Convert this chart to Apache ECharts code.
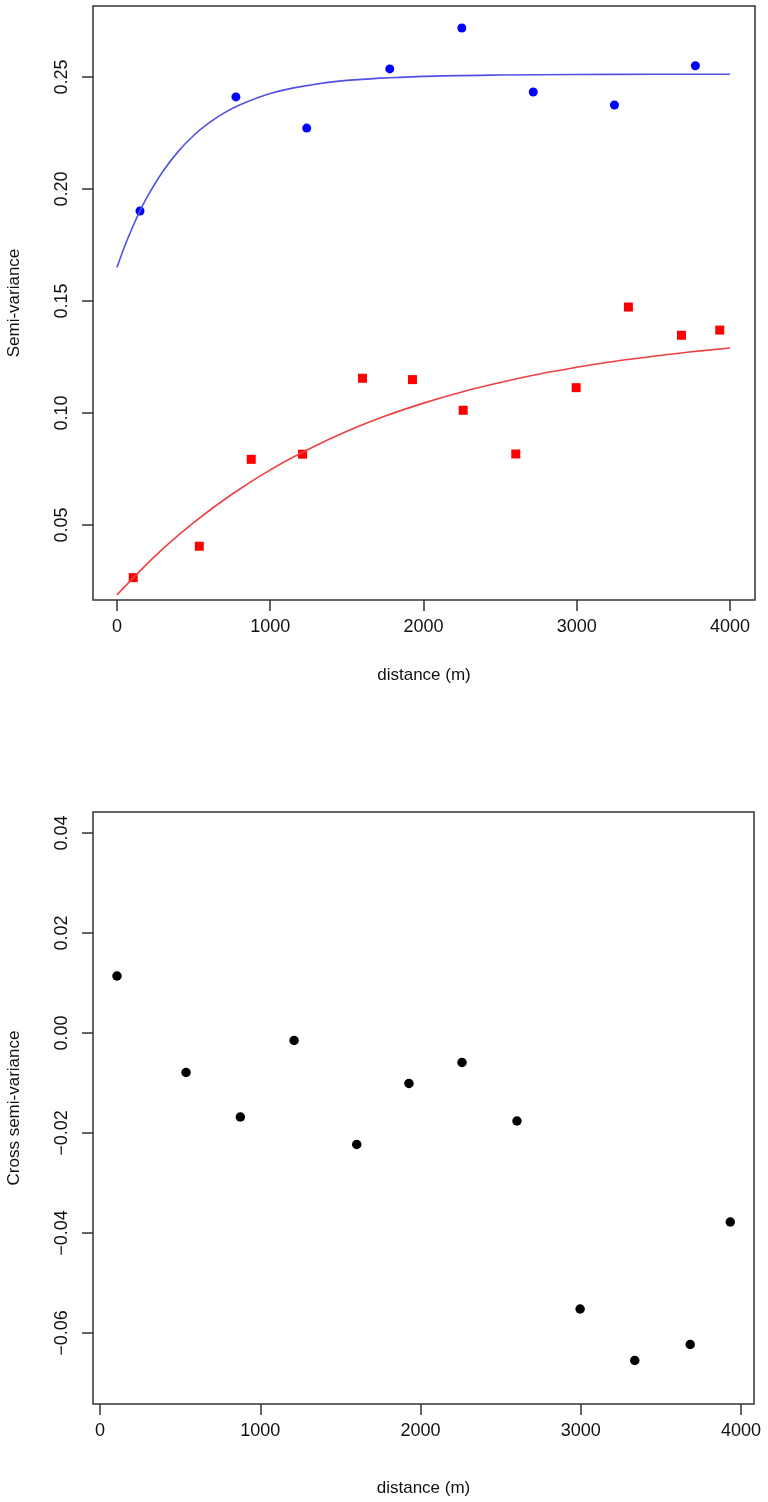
<!DOCTYPE html>
<html>
<head>
<meta charset="utf-8">
<script src="https://cdn.jsdelivr.net/npm/echarts@6/dist/echarts.min.js"></script>
<style>
html, body { margin: 0; padding: 0; background: #fff; }
#chart { width: 768px; height: 1502px; }
</style>
</head>
<body>
<div id="chart"></div>
<script>
// lag distances (m) shared by the red squares and the cross variogram
var lagDist = [106, 537, 876, 1211, 1602, 1928, 2259, 2602, 2996, 3337, 3683, 3933];
var redVals = [0.0265, 0.0405, 0.0793, 0.0816, 0.1155, 0.1149, 0.1012, 0.0817, 0.1113, 0.1473, 0.1347, 0.1370];
var crossVals = [0.0114, -0.0079, -0.0168, -0.0015, -0.0223, -0.0101, -0.0059, -0.0176, -0.0552, -0.0655, -0.0623, -0.0378];

// blue variogram points
var blueDist = [150, 776, 1238, 1780, 2250, 2716, 3246, 3774];
var blueVals = [0.1902, 0.2411, 0.2272, 0.2536, 0.2719, 0.2433, 0.2375, 0.2550];

// fitted model curves
var blueCurveDist = [0, 50, 100, 150, 200, 300, 400, 500, 600, 700, 800, 1000, 1200, 1500, 2000, 2500, 3000, 3500, 4000];
var blueCurveVals = [0.1650, 0.1744, 0.1827, 0.1902, 0.1968, 0.2079, 0.2168, 0.2239, 0.2295, 0.2340, 0.2375, 0.2426, 0.2457, 0.2485, 0.2503, 0.2509, 0.2511, 0.2512, 0.2512];
var redCurveDist = [0, 250, 500, 750, 1000, 1250, 1500, 1750, 2000, 2250, 2500, 2750, 3000, 3250, 3500, 3750, 4000];
var redCurveVals = [0.0188, 0.0362, 0.0510, 0.0637, 0.0746, 0.0838, 0.0918, 0.0986, 0.1044, 0.1094, 0.1136, 0.1173, 0.1204, 0.1231, 0.1253, 0.1273, 0.1290];

// tick labels
var xTicks = [0, 1000, 2000, 3000, 4000];
var yTicksTop = [0.05, 0.10, 0.15, 0.20, 0.25];
var yTicksBottom = [-0.06, -0.04, -0.02, 0.00, 0.02, 0.04];

function pairs(xs, ys) {
    return xs.map(function (x, i) { return [x, ys[i]]; });
}
function fmt(v) {
    var s = Math.abs(v).toFixed(2);
    return v < -1e-9 ? '\u2212' + s : s;
}

var font = 'Liberation Sans, Arial, sans-serif';
var boxColor = '#333';

function xAxisCfg(gridIndex, min, max, gap) {
    return {
        type: 'value', gridIndex: gridIndex, min: min, max: max,
        name: 'distance (m)', nameLocation: 'middle', nameGap: gap,
        nameTextStyle: { fontSize: 17, color: '#111', fontFamily: font },
        axisLine: { show: false, onZero: false },
        splitLine: { show: false },
        axisTick: { show: true, inside: false, length: 11, customValues: xTicks,
                    lineStyle: { color: boxColor, width: 1.5 } },
        axisLabel: { customValues: xTicks, margin: 18, fontSize: 18, color: '#111', fontFamily: font,
                     formatter: function (v) { return String(Math.round(v)); } }
    };
}
function yAxisCfg(gridIndex, min, max, ticks, name, gap) {
    return {
        type: 'value', gridIndex: gridIndex, min: min, max: max,
        name: name, nameLocation: 'middle', nameGap: gap, nameRotate: 90,
        nameTextStyle: { fontSize: 17, color: '#111', fontFamily: font },
        axisLine: { show: false, onZero: false },
        splitLine: { show: false },
        axisTick: { show: true, inside: false, length: 11, customValues: ticks,
                    lineStyle: { color: boxColor, width: 1.5 } },
        axisLabel: { customValues: ticks, rotate: 90, margin: 22, fontSize: 18, color: '#111',
                     fontFamily: font, formatter: fmt }
    };
}

var dom = document.getElementById('chart');
var myChart = echarts.init(dom);
var option = {
    backgroundColor: '#fff',
    animation: false,
    grid: [
        { left: 93, top: 6, width: 662, height: 594, show: true, outerBoundsMode: 'none',
          borderColor: boxColor, borderWidth: 1.5, backgroundColor: 'transparent' },
        { left: 93, top: 812, width: 661, height: 592, show: true, outerBoundsMode: 'none',
          borderColor: boxColor, borderWidth: 1.5, backgroundColor: 'transparent' }
    ],
    xAxis: [
        xAxisCfg(0, -156.5, 4163, 67),
        xAxisCfg(1, -43.7, 4081, 76)
    ],
    yAxis: [
        yAxisCfg(0, 0.0165, 0.2817, yTicksTop, 'Semi-variance', 70),
        yAxisCfg(1, -0.0742, 0.0442, yTicksBottom, 'Cross semi-variance', 70)
    ],
    series: [
        {
            type: 'line', xAxisIndex: 0, yAxisIndex: 0, smooth: 0.3, showSymbol: false,
            lineStyle: { color: '#5050e6', width: 1.6 },
            data: pairs(blueCurveDist, blueCurveVals)
        },
        {
            type: 'line', xAxisIndex: 0, yAxisIndex: 0, smooth: 0.3, showSymbol: false,
            lineStyle: { color: '#f04040', width: 1.6 },
            data: pairs(redCurveDist, redCurveVals)
        },
        {
            type: 'scatter', xAxisIndex: 0, yAxisIndex: 0, symbol: 'circle', symbolSize: 9,
            itemStyle: { color: '#0000ff', opacity: 1 },
            data: pairs(blueDist, blueVals)
        },
        {
            type: 'scatter', xAxisIndex: 0, yAxisIndex: 0, symbol: 'rect', symbolSize: 9,
            itemStyle: { color: '#ff0000', opacity: 1 },
            data: pairs(lagDist, redVals)
        },
        {
            type: 'scatter', xAxisIndex: 1, yAxisIndex: 1, symbol: 'circle', symbolSize: 9.5,
            itemStyle: { color: '#000', opacity: 1 },
            data: pairs(lagDist, crossVals)
        }
    ]
};
myChart.setOption(option, true);
</script>
</body>
</html>
